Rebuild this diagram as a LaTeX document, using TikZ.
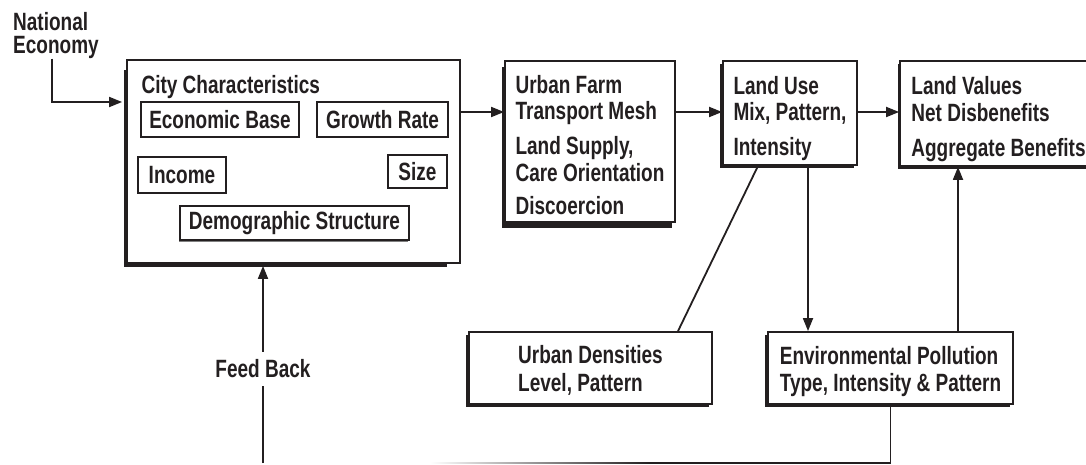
\documentclass[tikz,border=0pt]{standalone}
\usepackage{fontspec}
\setmainfont{Liberation Sans}[FakeStretch=0.76]
\usepackage{tikz}
\usetikzlibrary{positioning, arrows.meta, shadows}
\definecolor{ink}{RGB}{35,31,32}

\begin{document}
\begin{tikzpicture}[x=1pt, y=-1pt,
  font=\fontsize{25}{26.5}\selectfont\bfseries, text=ink,
  shad/.style 2 args={drop shadow={shadow xshift=#1, shadow yshift=#2, fill=ink, opacity=1}},
  box/.style={draw=ink, line width=1.8pt, fill=white, align=left, inner sep=2pt},
  sbox/.style={draw=ink, line width=1.3pt, fill=white, inner sep=2pt,
    drop shadow={shadow xshift=-1.5pt, shadow yshift=-1.5pt, fill=gray, opacity=1}},
  conn/.style={draw=ink, line width=1.8pt},
  arr/.style={conn, -{Triangle[length=13pt, width=10pt]}}]
\useasboundingbox (0,0) rectangle (1086,465);

% city block
\node[box, minimum width=333pt, minimum height=203pt,
  drop shadow={shadow xshift=-8pt, shadow yshift=-7.5pt, shadow scale=0.97, fill=ink, opacity=1}] (city) at (293.5,161.5) {};
\node[anchor=base west] (cityTitle) at (138,94) {City Characteristics};
\node[sbox, minimum width=158pt, minimum height=35pt] (ecoBase) at (220,119.5) {Economic Base};
\node[sbox, minimum width=131pt, minimum height=35pt] (growth) at (382.5,119.5) {Growth Rate};
\node[sbox, minimum width=88pt, minimum height=36pt] (income) at (182,175) {Income};
\node[sbox, minimum width=59pt, minimum height=33pt] (size) at (417.5,171.5) {Size};
\node[sbox, minimum width=229pt, minimum height=34pt] (demog) at (294.5,223) {Demographic Structure};

\node[anchor=north west, align=left, inner sep=0pt, font=\fontsize{25}{23}\selectfont\bfseries] (natEcon) at (13,12) {National\\Economy};

% top row
\node[box, shad={-3pt}{-6pt}, minimum width=170pt, minimum height=161pt] (farm) at (590,141.5)
  {\rule{0pt}{25pt}Urban Farm\\Transport Mesh\\[8.5pt]Land Supply,\\Care Orientation\\[6.5pt]Discoercion};
\node[box, shad={-3pt}{-3pt}, minimum width=134pt, minimum height=104pt] (landUse) at (790,113)
  {\rule{0pt}{29pt}Land Use\\Mix, Pattern,\\[8.5pt]Intensity};
\node[box, shad={-2.5pt}{-3pt}, minimum width=197pt, minimum height=105pt] (values) at (998.5,113.5)
  {\rule{0pt}{29pt}Land Values\\Net Disbenefits\\[8.5pt]Aggregate Benefits};

% bottom row
\node[box, shad={-3pt}{-3pt}, minimum width=243pt, minimum height=72pt] (urbDens) at (590.5,368)
  {\rule{0pt}{22pt}Urban Densities\\[1.5pt]Level, Pattern};
\node[box, shad={-3pt}{-3pt}, minimum width=245pt, minimum height=72pt] (env) at (890.5,368)
  {\rule{0pt}{25pt}Environmental Pollution\\Type, Intensity \& Pattern};

% connectors
\coordinate (neBend) at (52,102);
\coordinate (cityIn) at ([xshift=-4pt]city.west);
\draw[arr] (natEcon.south -| neBend) -- (neBend) -- (cityIn |- neBend);

\coordinate (rowA) at (0,112);
\draw[arr] (city.east |- rowA) -- (farm.west |- rowA);
\draw[arr] (farm.east |- rowA) -- (landUse.west |- rowA);
\draw[arr] (landUse.east |- rowA) -- (values.west |- rowA);

\coordinate (luDown) at ([xshift=18pt]landUse.south);
\draw[arr] (luDown) -- (luDown |- env.north);
\coordinate (envUp) at ([xshift=67.5pt]env.north);
\draw[arr] (envUp) -- (envUp |- values.south);

\coordinate (luDiag) at ([xshift=-32pt]landUse.south);
\coordinate (udTop) at ([xshift=87.5pt]urbDens.north);
\draw[conn] (luDiag) -- (udTop);

\coordinate (fbFade) at (650,463);
\draw[conn] (env.south) |- (fbFade);
\shade[left color=white, right color=ink] (430,462.1) rectangle (650,463.9);

\coordinate (fbFoot) at (263,463);
\coordinate (cityOut) at ([yshift=-2pt]city.south);
\draw[arr] (fbFoot) -- node[pos=0.477, fill=white, inner xsep=1pt, inner ysep=7.5pt] (fbLabel) {Feed Back} (fbFoot |- cityOut);
\end{tikzpicture}
\end{document}
